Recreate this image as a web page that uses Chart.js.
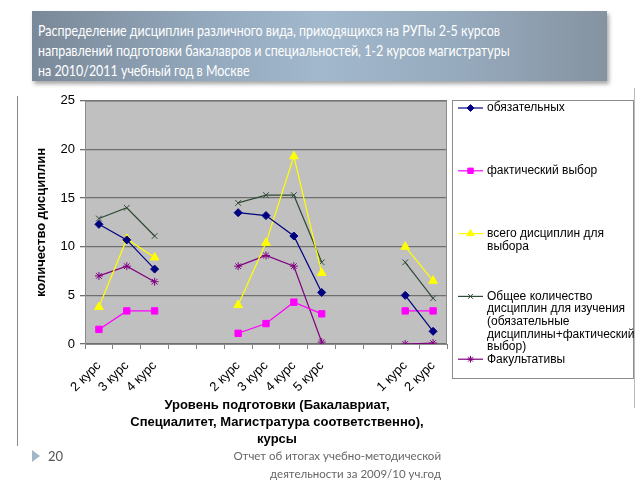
<!DOCTYPE html>
<html>
<head>
<meta charset="utf-8">
<script src="https://cdn.jsdelivr.net/npm/chart.js@4/dist/chart.umd.min.js"></script>
<style>
  html, body { margin:0; padding:0; background:#fff; width:640px; height:480px; overflow:hidden; }
  body { position:relative; font-family:"Liberation Sans", Arial, sans-serif; }
  #banner { position:absolute; left:32px; top:11px; width:575px; height:70px;
    background:linear-gradient(to right,#7a8999 0%,#93a8bc 30%,#a2b8cc 50%,#96aabd 75%,#8593a1 100%);
    box-shadow:2px 3px 4px rgba(0,0,0,0.35); box-sizing:border-box; padding:9px 0 0 6px;
    color:#fff; font-family:Lato, "Open Sans", sans-serif; font-size:15px; line-height:20px; white-space:nowrap; }
  #banner span { display:inline-block; transform:scaleX(0.83); transform-origin:left top; }
  #wrap { position:absolute; left:17px; top:88px; width:617px; height:362px; }
  .vline { position:absolute; width:0; border-left:1px solid #8a8a8a; }
  #xtitle { position:absolute; left:120px; width:314px; top:396px; text-align:center;
    font-family:"Liberation Sans", Arial, sans-serif; font-weight:bold; font-size:13px; line-height:17px; color:#000; }
  #tri { position:absolute; left:32px; top:450px; width:0; height:0;
    border-top:6.5px solid transparent; border-bottom:6.5px solid transparent; border-left:8px solid #a3b7c9; }
  #pnum { position:absolute; left:48px; top:448px; font-family:Lato, sans-serif; font-size:13px; color:#555; }
  #foot { position:absolute; right:199px; top:447px; text-align:right; font-family:Lato, sans-serif;
    font-size:11.5px; line-height:18px; color:#666; white-space:nowrap; }
</style>
</head>
<body>
<div id="banner"><span>Распределение дисциплин различного вида, приходящихся на РУПы 2-5 курсов<br>направлений подготовки бакалавров и специальностей, 1-2 курсов магистратуры<br>на 2010/2011 учебный год в Москве</span></div>
<div class="vline" style="left:17px; top:96px; height:350px;"></div>
<div class="vline" style="left:634px; top:88px; height:320px; border-color:#bbb;"></div>
<div id="wrap"><canvas id="c" width="617" height="362"></canvas></div>
<div id="xtitle">Уровень подготовки (Бакалавриат,<br>Специалитет, Магистратура соответственно),<br>курсы</div>
<div id="tri"></div>
<div id="pnum">20</div>
<div id="foot">Отчет об итогах учебно-методической<br>деятельности за 2009/10 уч.год</div>
<script>
// ---- data ----
const categories = ['2 курс','3 курс','4 курс','','','2 курс','3 курс','4 курс','5 курс','','','1 курс','2 курс'];
const obligatory  = [12.3, 10.7, 7.7, null, null, 13.5, 13.2, 11.1, 5.3, null, null, 5.0, 1.3];
const factual     = [1.5, 3.4, 3.4, null, null, 1.1, 2.1, 4.3, 3.1, null, null, 3.4, 3.4];
const totalChoice = [3.8, 10.8, 8.9, null, null, 4.0, 10.4, 19.3, 7.3, null, null, 10.0, 6.5];
const totalStudy  = [12.9, 14.0, 11.1, null, null, 14.5, 15.3, 15.3, 8.4, null, null, 8.4, 4.7];
const optional    = [7.0, 8.0, 6.4, null, null, 8.0, 9.1, 8.0, 0.2, null, null, 0.0, 0.1];
const seriesNames = [
  ['обязательных'],
  ['фактический выбор'],
  ['всего дисциплин для', 'выбора'],
  ['Общее количество', 'дисциплин для изучения', '(обязательные', 'дисциплины+фактический', 'выбор)'],
  ['Факультативы']
];
const yTicks = [0, 5, 10, 15, 20, 25];
const yAxisTitle = 'количество дисциплин';

const styles = [
  {color:'#000080', point:'rectRot', r:4},
  {color:'#ff00ff', point:'rect', r:4.5},
  {color:'#ffff00', point:'triangle', r:5},
  {color:'#2f4a35', point:'crossRot', r:4},
  {color:'#800080', point:'star', r:4}
];
const seriesData = [obligatory, factual, totalChoice, totalStudy, optional];

const datasets = seriesData.map((d, i) => ({
  label: seriesNames[i].join(' '),
  data: d,
  borderColor: styles[i].color,
  backgroundColor: styles[i].color,
  pointBackgroundColor: styles[i].color,
  pointBorderColor: styles[i].color,
  pointStyle: styles[i].point,
  pointRadius: styles[i].r,
  pointBorderWidth: 1,
  borderWidth: 1.2,
  spanGaps: false,
  tension: 0
}));

const plotBg = {
  id:'plotBg',
  beforeDraw(chart) {
    const {ctx, chartArea:a} = chart;
    ctx.save();
    ctx.fillStyle = '#c0c0c0';
    ctx.fillRect(a.left, a.top, a.right - a.left, a.bottom - a.top);
    ctx.restore();
  },
  afterDatasetsDraw(chart) {
    const {ctx, chartArea:a} = chart;
    ctx.save();
    ctx.strokeStyle = '#8c8c8c';
    ctx.lineWidth = 1;
    ctx.strokeRect(a.left + 0.5, a.top + 0.5, a.right - a.left - 1, a.bottom - a.top);
    ctx.restore();
  }
};

const legendBox = {
  id:'legendBox',
  afterDraw(chart) {
    const ctx = chart.ctx;
    const bx = 435.5, by = 12.5, bw = 181, bh = 278;
    ctx.save();
    ctx.fillStyle = '#fff';
    ctx.fillRect(bx, by, bw, bh);
    ctx.strokeStyle = '#8c8c8c';
    ctx.lineWidth = 1;
    ctx.strokeRect(bx, by, bw, bh);
    ctx.font = '12px "Liberation Sans", Arial, sans-serif';
    ctx.textBaseline = 'middle';
    chart.data.datasets.forEach((ds, i) => {
      const y = 20 + i * 62.8;
      ctx.strokeStyle = ds.borderColor;
      ctx.lineWidth = 1.2;
      ctx.beginPath();
      ctx.moveTo(441, y); ctx.lineTo(466, y); ctx.stroke();
      ctx.fillStyle = ds.borderColor;
      ctx.strokeStyle = ds.borderColor;
      ctx.lineWidth = 1;
      Chart.helpers.drawPoint(ctx, {
        pointStyle: ds.pointStyle, radius: ds.pointRadius * 0.85, rotation: 0,
        borderWidth: 1
      }, 453.5, y);
      ctx.fillStyle = '#000';
      seriesNames[i].forEach((line, k) => {
        ctx.fillText(line, 470, y + k * 12.6);
      });
    });
    ctx.restore();
  }
};

new Chart(document.getElementById('c'), {
  type: 'line',
  data: { labels: categories, datasets },
  plugins: [plotBg, legendBox],
  options: {
    responsive: false,
    animation: false,
    layout: { padding: { top: 12, right: 187, bottom: 0, left: 0 } },
    plugins: { legend: { display: false }, tooltip: { enabled: false } },
    scales: {
      x: {
        offset: true,
        grid: { display: true, drawOnChartArea: false, offset: true, tickLength: 5, color: '#808080' },
        border: { color: '#808080' },
        ticks: { autoSkip: false, maxRotation: 45, minRotation: 45, padding: 9,
          color: '#000', font: { family: '"Liberation Sans", Arial, sans-serif', size: 13 } },
        afterFit(s) { s.height = 106; }
      },
      y: {
        min: 0, max: 25,
        afterBuildTicks(s) { s.ticks = yTicks.map(v => ({value: v})); },
        grid: { color: '#6f6f6f', lineWidth: 1.3, tickLength: 5 },
        border: { color: '#808080' },
        ticks: { padding: 5, color: '#000', font: { family: '"Liberation Sans", Arial, sans-serif', size: 13 } },
        title: { display: true, text: yAxisTitle, color: '#000', padding: { top: 17, bottom: 0 },
          font: { family: '"Liberation Sans", Arial, sans-serif', size: 13, weight: 'bold' } },
        afterFit(s) { s.width = 68; }
      }
    }
  }
});
</script>
</body>
</html>
